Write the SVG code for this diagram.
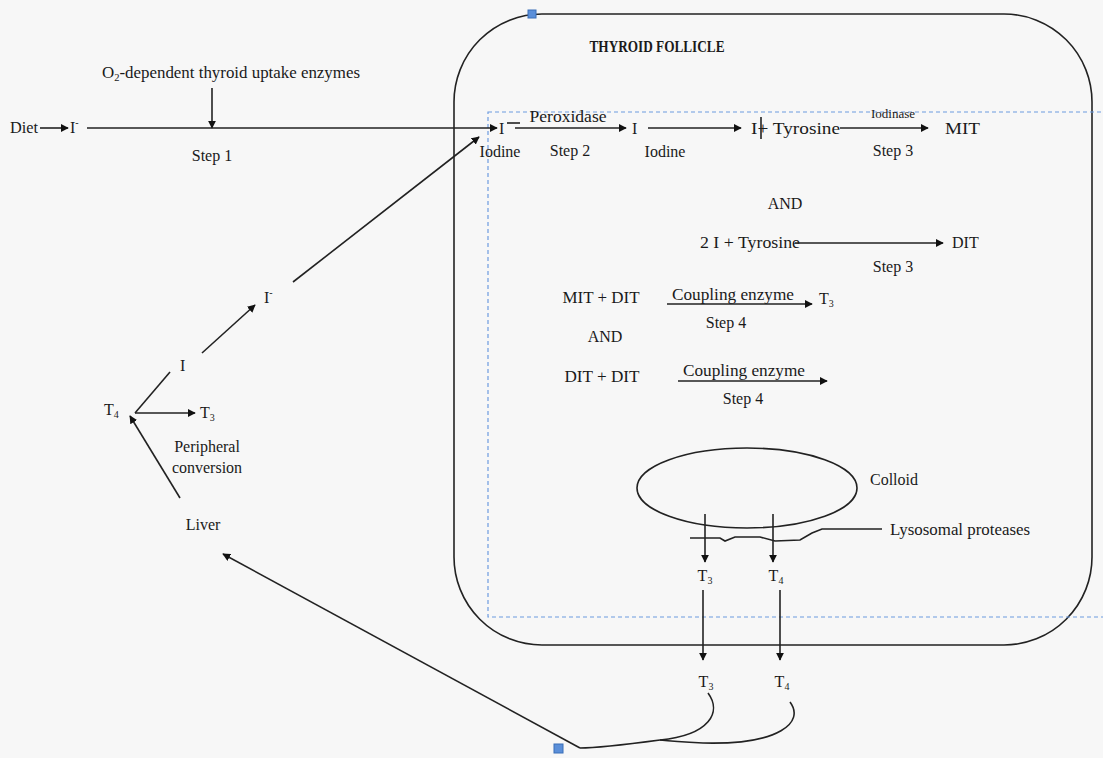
<svg xmlns="http://www.w3.org/2000/svg" width="1103" height="758" viewBox="0 0 1103 758">
<defs>
<style>
text{font-family:"Liberation Serif","Times New Roman",serif;font-size:16px;fill:#1a1a1a}
.c{text-anchor:middle}
.b{font-weight:bold}
.ln{stroke:#222;stroke-width:1.6;fill:none}
.ar{stroke:#222;stroke-width:1.6;fill:none;marker-end:url(#ah)}
.sub{font-size:10px}
.sup{font-size:10px}
.dash{stroke:#6d9be0;stroke-width:1.2;fill:none;stroke-dasharray:4 3}
.hnd{fill:#5b8fd9;stroke:#3a6fb8;stroke-width:1}
</style>
<marker id="ah" viewBox="0 0 10 10" refX="9" refY="5" markerWidth="8" markerHeight="8" orient="auto" markerUnits="userSpaceOnUse">
<path d="M0,0 L10,5 L0,10 z" fill="#111"/>
</marker>
</defs>
<rect x="0" y="0" width="1103" height="758" fill="#f7f7f7"/>

<g id="follicle">
<rect x="454" y="14" width="638" height="631" rx="88" ry="88" class="ln" stroke-width="1.8"/>
<rect x="488" y="112" width="630" height="505" class="dash"/>
<rect x="528" y="10" width="8" height="8" class="hnd"/>
<text x="657" y="52" class="c b" textLength="135" lengthAdjust="spacingAndGlyphs">THYROID FOLLICLE</text>
</g>

<g id="diet">
<text x="10" y="133" textLength="28" lengthAdjust="spacingAndGlyphs">Diet</text>
<text x="70" y="133">I<tspan class="sup" dy="-7">-</tspan></text>
</g>

<g id="uptake">
<text x="231" y="78" class="c" textLength="258" lengthAdjust="spacingAndGlyphs">O<tspan class="sub" dy="3">2</tspan><tspan dy="-3">-dependent thyroid uptake enzymes</tspan></text>
<text x="212" y="161" class="c">Step 1</text>
</g>

<g id="iodide-in">
<text x="499" y="134">I</text>
<line x1="507" y1="123" x2="520" y2="123" class="ln" stroke-width="1.3"/>
<text x="500" y="157" class="c">Iodine</text>
</g>

<g id="step2">
<text x="568" y="122" class="c" textLength="77" lengthAdjust="spacingAndGlyphs">Peroxidase</text>
<text x="570" y="156" class="c">Step 2</text>
</g>

<g id="iodine2">
<text x="632" y="134">I</text>
<text x="665" y="157" class="c">Iodine</text>
</g>

<g id="tyrosine1">
<text x="751" y="134" textLength="89" lengthAdjust="spacingAndGlyphs">I+ Tyrosine</text>
<line x1="761" y1="117" x2="761" y2="139" class="ln" stroke-width="1.4"/>
<text x="893" y="118" class="c" style="font-size:13px">Iodinase</text>
<text x="893" y="156" class="c">Step 3</text>
</g>

<g id="mit">
<text x="945" y="134" textLength="35" lengthAdjust="spacingAndGlyphs">MIT</text>
</g>

<g id="and1">
<text x="785" y="209" class="c">AND</text>
</g>

<g id="tyrosine2">
<text x="700" y="248" textLength="100" lengthAdjust="spacingAndGlyphs">2 I + Tyrosine</text>
<text x="893" y="272" class="c">Step 3</text>
</g>

<g id="dit">
<text x="952" y="248">DIT</text>
</g>

<g id="mitdit">
<text x="601" y="303" class="c" textLength="77" lengthAdjust="spacingAndGlyphs">MIT + DIT</text>
<text x="733" y="300" class="c" textLength="122" lengthAdjust="spacingAndGlyphs">Coupling enzyme</text>
<text x="726" y="328" class="c">Step 4</text>
<text x="819" y="304">T<tspan class="sub" dy="3">3</tspan></text>
</g>

<g id="and2">
<text x="605" y="342" class="c">AND</text>
</g>

<g id="ditdit">
<text x="602" y="382" class="c" textLength="75" lengthAdjust="spacingAndGlyphs">DIT + DIT</text>
<text x="744" y="376" class="c" textLength="122" lengthAdjust="spacingAndGlyphs">Coupling enzyme</text>
<text x="743" y="404" class="c">Step 4</text>
</g>

<g id="colloid">
<ellipse cx="747" cy="488" rx="110" ry="40" class="ln"/>
<text x="870" y="485">Colloid</text>
</g>

<g id="lysosomal">
<path d="M690,538 L720,538 L725,541 L735,537 L760,537 L775,541 L800,540 L812,533 L822,529 L882,529" class="ln" stroke-width="1.2"/>
<text x="890" y="535" textLength="140" lengthAdjust="spacingAndGlyphs">Lysosomal proteases</text>
</g>

<g id="t3-inner"><text x="705" y="581" class="c">T<tspan class="sub" dy="3">3</tspan></text></g>
<g id="t4-inner"><text x="776" y="581" class="c">T<tspan class="sub" dy="3">4</tspan></text></g>
<g id="t3-out"><text x="706" y="687" class="c">T<tspan class="sub" dy="3">3</tspan></text></g>
<g id="t4-out"><text x="782" y="687" class="c">T<tspan class="sub" dy="3">4</tspan></text></g>

<g id="liver"><text x="203" y="530" class="c">Liver</text></g>
<g id="t4-left"><text x="104" y="415">T<tspan class="sub" dy="3">4</tspan></text></g>
<g id="t3-left"><text x="200" y="418">T<tspan class="sub" dy="3">3</tspan></text></g>
<g id="i-left"><text x="180" y="371">I</text></g>
<g id="iminus-left"><text x="264" y="303">I<tspan class="sup" dy="-7">-</tspan></text></g>
<g id="peripheral">
<text x="207" y="452" class="c">Peripheral</text>
<text x="207" y="473" class="c">conversion</text>
</g>

<g id="connectors">
<line x1="40" y1="128" x2="68" y2="128" class="ar"/>
<line x1="212" y1="88" x2="212" y2="128" class="ar"/>
<line x1="87" y1="128" x2="497" y2="128" class="ar"/>
<line x1="515" y1="128" x2="626" y2="128" class="ar"/>
<line x1="648" y1="128" x2="741" y2="128" class="ar"/>
<line x1="840" y1="128" x2="928" y2="128" class="ar"/>
<line x1="795" y1="243" x2="943" y2="243" class="ar"/>
<line x1="667" y1="304" x2="812" y2="304" class="ar"/>
<line x1="678" y1="381" x2="827" y2="381" class="ar"/>
<line x1="705" y1="514" x2="705" y2="562" class="ar"/>
<line x1="773" y1="514" x2="773" y2="562" class="ar"/>
<line x1="703" y1="590" x2="703" y2="660" class="ar"/>
<line x1="780" y1="590" x2="780" y2="660" class="ar"/>
<path d="M708,693 C722,712 710,735 660,740 C630,744 600,748 580,748" class="ln"/>
<path d="M790,702 C805,722 780,745 703,743 C680,742 668,741 660,740" class="ln"/>
<line x1="580" y1="748" x2="223" y2="554" class="ar"/>
<rect x="554" y="744" width="9" height="9" class="hnd"/>
<line x1="180" y1="498" x2="130" y2="416" class="ar"/>
<line x1="135" y1="413" x2="195" y2="413" class="ar"/>
<line x1="135" y1="413" x2="170" y2="372" class="ln"/>
<line x1="202" y1="353" x2="255" y2="305" class="ar"/>
<line x1="293" y1="282" x2="479" y2="137" class="ar"/>
</g>
</svg>
